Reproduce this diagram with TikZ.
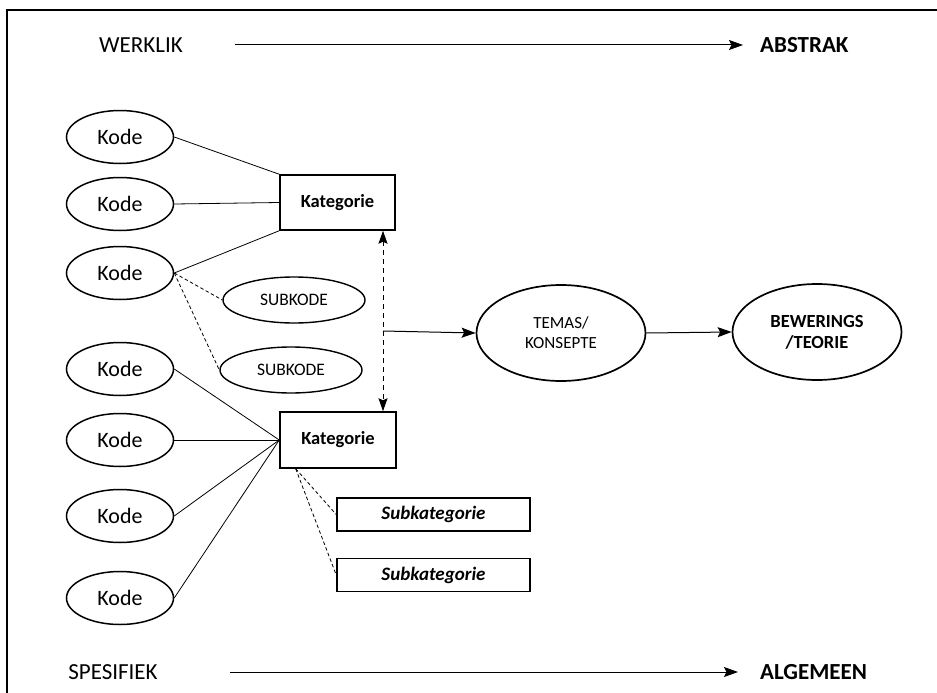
\documentclass[tikz,border=0pt]{standalone}
\usepackage{fontspec}
\setmainfont{Carlito}
\usetikzlibrary{shapes.geometric,arrows.meta,calc}

\tikzset{
  kode/.style={draw, ellipse, line width=1.5pt, minimum width=107pt, minimum height=53pt, inner sep=0pt, font=\fontsize{22}{24}\selectfont},
  subkode/.style={draw, ellipse, line width=1.4pt, minimum width=142pt, minimum height=46pt, inner sep=0pt, font=\fontsize{17.5}{22}\selectfont},
  katbox/.style={draw, rectangle, line width=1.5pt, minimum width=115pt, minimum height=55pt, inner sep=0pt, font=\bfseries\fontsize{18.5}{21}\selectfont},
  subkat/.style={draw, rectangle, line width=1.5pt, minimum width=193pt, minimum height=33pt, inner sep=0pt, font=\bfseries\itshape\fontsize{19}{21}\selectfont},
  bigell/.style={draw, ellipse, line width=1.7pt, minimum width=169pt, minimum height=96pt, inner sep=0pt, align=center},
  axislabel/.style={inner sep=0pt, font=\fontsize{23}{26}\selectfont},
  axisbold/.style={inner sep=0pt, anchor=west, font=\bfseries\fontsize{23}{26}\selectfont},
  link/.style={line width=0.8pt},
  sublink/.style={line width=0.8pt, dash pattern=on 3.5pt off 2.5pt},
  flow/.style={line width=1pt, -{Stealth[length=14pt, width=10pt, inset=2.5pt]}},
  linkarrow/.style={line width=1pt, dash pattern=on 5pt off 4pt, {Stealth[length=13pt, width=9pt, inset=2pt]}-{Stealth[length=13pt, width=9pt, inset=2pt]}}
}

\begin{document}
\begin{tikzpicture}[x=1pt, y=-1pt]
\useasboundingbox (0,0) rectangle (937,693);

% open frame (only top and left edges fall inside the page)
\draw[line width=1.6pt] (7,720) -- (7,10) -- (960,10);

% axis labels and arrows
\node[axislabel] (werklik) at (141,45) {WERKLIK};
\node[axisbold] (abstrak) at (760,45) {ABSTRAK};
\coordinate (topstart) at (235,45);
\draw[flow] (topstart) -- (abstrak.west -| 743,0);

\node[axislabel] (spesifiek) at (113,672) {SPESIFIEK};
\node[axisbold] (algemeen) at (760,672) {ALGEMEEN};
\coordinate (botstart) at (230,672);
\draw[flow] (botstart) -- (algemeen.west -| 738,0);

% codes
\node[kode] (k1) at (120,137) {Kode};
\node[kode] (k2) at (120,204) {Kode};
\node[kode] (k3) at (120,273) {Kode};
\node[kode] (k4) at (120,369) {Kode};
\node[kode] (k5) at (120,440) {Kode};
\node[kode] (k6) at (120,516) {Kode};
\node[kode] (k7) at (120,598) {Kode};

% categories
\node[katbox] (kat1) at (337.5,202.5) {Kategorie};
\node[katbox, minimum width=116pt, minimum height=56pt] (kat2) at (338,440) {Kategorie};

% sub-codes and sub-categories
\node[subkode] (sk1) at (294,300) {SUBKODE};
\node[subkode] (sk2) at (291,370) {SUBKODE};
\node[subkat] (sc1) at (433.5,514.5) {Subkategorie};
\node[subkat] (sc2) at (433.5,575) {Subkategorie};

% themes and theory
\node[bigell, font=\fontsize{17}{20}\selectfont] (temas) at (561,333) {TEMAS/\\KONSEPTE};
\node[bigell, font=\bfseries\fontsize{18.5}{21}\selectfont] (teorie) at (817,332) {BEWERINGS\\/TEORIE};

% code-to-category links
\draw[link] (k1.east) -- (kat1.north west);
\draw[link] (k2.east) -- (kat1.west);
\draw[link] (k3.east) -- (kat1.south west);
\draw[sublink] (k3.east) -- (sk1.west);
\draw[sublink] (k3.east) -- (sk2.west);

\draw[link] (k4.east) -- (kat2.west);
\draw[link] (k5.east) -- (kat2.west);
\draw[link] (k6.east) -- (kat2.west);
\draw[link] (k7.east) -- (kat2.west);

\coordinate (katfoot) at ($(kat2.south west)!0.14!(kat2.south east)$);
\draw[sublink] (katfoot) -- (sc1.west);
\draw[sublink] (katfoot) -- (sc2.west);

% link between the two categories, feeding the themes
\coordinate (mid) at (383,331);
\draw[linkarrow] (kat1.south -| mid) -- (kat2.north -| mid);
\draw[flow] (mid) -- (temas.west);
\draw[flow] (temas.east) -- (teorie.west);
\end{tikzpicture}
\end{document}
